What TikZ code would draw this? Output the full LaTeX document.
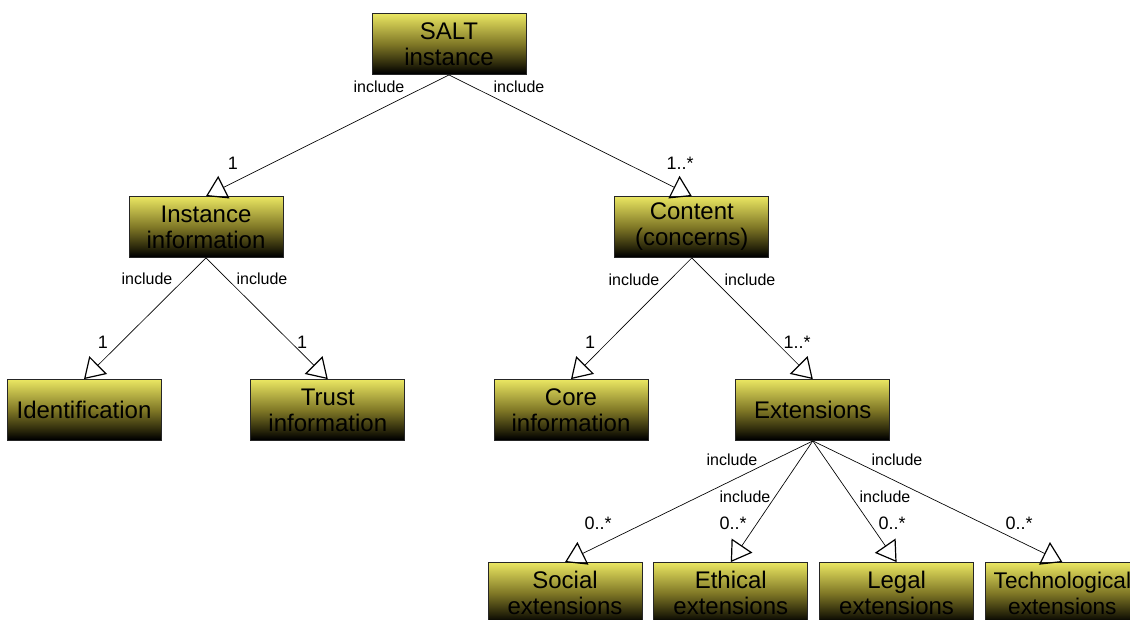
\documentclass[tikz,border=0pt]{standalone}
\usepackage{fontspec}
\setmainfont{Liberation Sans}
\usepackage{xcolor}
\usetikzlibrary{arrows.meta, positioning}

\definecolor{boxtop}{RGB}{234,230,98}
\definecolor{boxmid}{RGB}{128,120,38}
\definecolor{boxlow}{RGB}{40,37,10}
\pgfdeclareverticalshading{boxshade}{100bp}{color(0bp)=(black); color(26bp)=(black);
    color(33bp)=(boxlow); color(50bp)=(boxmid); color(75bp)=(boxtop); color(100bp)=(boxtop)}

\begin{document}
\begin{tikzpicture}[x=0.75pt, y=-0.75pt,
    block/.style={draw=black!85, line width=0.6pt, minimum width=115.5pt,
        minimum height=45.75pt, inner sep=0pt, align=center,
        font=\fontsize{18}{19.5}\selectfont, shading=boxshade},
    arr/.style={-{Triangle[open, length=15pt, width=18.75pt, line width=0.9pt]},
        line width=0.5pt},
    incl/.style={font=\fontsize{12}{14}\selectfont, inner sep=0pt},
    mult/.style={font=\fontsize{13.5}{15}\selectfont, inner sep=0pt},
]
\useasboundingbox (0,0) rectangle (1130,619);

% ---- Root ----
\node[block] (salt) at (449,44) {SALT\\instance};

% ---- Level 1 ----
\node[block] (inst) at (206,227) {Instance\\information};
\node[block, right=248.25pt of inst] (cont) {Content\\(concerns)};

% ---- Level 2 ----
\node[block] (ident) at (84,410) {Identification};
\node[block, right=66.75pt of ident] (trust) {Trust\\information};
\node[block] (core) at (571,410) {Core\\information};
\node[block, right=65.25pt of core] (ext) {Extensions};

% ---- Level 3 ----
\node[block] (social) at (565,593) {Social\\extensions};
\node[block, right=8.25pt of social] (ethic) {Ethical\\extensions};
\node[block, right=8.25pt of ethic] (legal) {Legal\\extensions};
\node[block, right=8.25pt of legal, font=\fontsize{17}{19.5}\selectfont] (tech)
    {Technological\\extensions};

% ---- Connectors ----
\draw[arr] (salt.south) -- (inst.north);
\draw[arr] (salt.south) -- (cont.north);
\draw[arr] (inst.south) -- (ident.north);
\draw[arr] (inst.south) -- (trust.north);
\draw[arr] (cont.south) -- (core.north);
\draw[arr] (cont.south) -- (ext.north);
\draw[arr] (ext.south) -- (social.north);
\draw[arr] (ext.south) -- (ethic.north);
\draw[arr] (ext.south) -- (legal.north);
\draw[arr] (ext.south) -- (tech.north);

% ---- Role labels ----
\node[incl] (i-si) at (379,87) {include};
\node[incl] (i-sc) at (519,87) {include};
\node[incl] (i-id) at (147,279) {include};
\node[incl] (i-tr) at (262,279) {include};
\node[incl] (i-co) at (634,280) {include};
\node[incl] (i-ex) at (750,280) {include};
\node[incl] (i-so) at (732,460) {include};
\node[incl] (i-et) at (745,497) {include};
\node[incl] (i-le) at (885,497) {include};
\node[incl] (i-te) at (897,460) {include};

% ---- Multiplicities ----
\node[mult] (m-si) at (233,163) {1};
\node[mult] (m-sc) at (680,163) {1..*};
\node[mult] (m-id) at (103,342) {1};
\node[mult] (m-tr) at (302,342) {1};
\node[mult] (m-co) at (590,342) {1};
\node[mult] (m-ex) at (797,342) {1..*};
\node[mult] (m-so) at (598,523) {0..*};
\node[mult] (m-et) at (733,523) {0..*};
\node[mult] (m-le) at (892,523) {0..*};
\node[mult] (m-te) at (1019,523) {0..*};

\end{tikzpicture}
\end{document}
